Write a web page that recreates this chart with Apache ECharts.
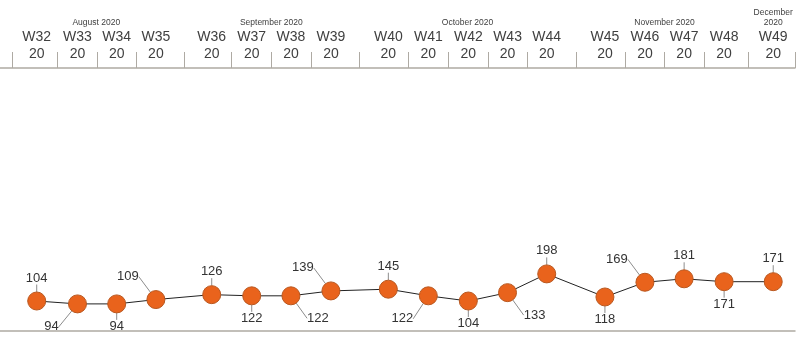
<!DOCTYPE html>
<html><head><meta charset="utf-8">
<script src="https://cdn.jsdelivr.net/npm/echarts@6/dist/echarts.min.js"></script>
<style>html,body{margin:0;padding:0;background:#fff}#c{width:804px;height:360px}</style>
</head><body><div id="c"></div>
<script>
// ---- data ----
const weeks = ['W32','W33','W34','W35','W36','W37','W38','W39','W40','W41','W42','W43','W44','W45','W46','W47','W48','W49'];
const weekYear = '20';
const months = ['August 2020','September 2020','October 2020','November 2020','December\n2020'];
const weekMonth = [0,0,0,0,1,1,1,1,2,2,2,2,2,3,3,3,3,4];
// x slot of each week on the timeline (weeks, month groups padded)
const weekSlot = [32.00,33.03,34.02,35.01,36.42,37.43,38.42,39.43,40.88,41.89,42.90,43.89,44.88,46.35,47.36,48.35,49.36,50.60];
const values = [104,94,94,109,126,122,122,139,145,122,104,133,198,118,169,181,171,171];
const labelSide = ['T','BL','B','TL','T','B','BR','TL','T','BL','B','BR','T','B','TL','T','B','T'];

// ---- derived ----
const tickVals = [weekSlot[0] - 0.61];
for (let i = 0; i < weekSlot.length - 1; i++) tickVals.push((weekSlot[i] + weekSlot[i + 1]) / 2);
tickVals.push(weekSlot[weekSlot.length - 1] + 0.55);
const xMin = weekSlot[0] - 0.927;
const xMax = tickVals[tickVals.length - 1];
const monthCenters = months.map((m, mi) => {
  const s = weekSlot.filter((_, i) => weekMonth[i] === mi);
  return (s[0] + s[s.length - 1]) / 2;
});
function nearest(arr, v) {
  let b = 0;
  arr.forEach((a, i) => { if (Math.abs(a - v) < Math.abs(arr[b] - v)) b = i; });
  return b;
}
const sideOffset = { T: [0, -23], B: [0, 22.5], TL: [-28, -23], BL: [-26, 23], BR: [27, 22.5] };

const FONT = 'Arial, "Liberation Sans", sans-serif';
const AXIS_COLOR = '#aeaaa3';

const chart = echarts.init(document.getElementById('c'), null, { renderer: 'canvas' });
chart.setOption({
  animation: false,
  grid: { left: 0, right: 9, top: 68, bottom: 29, containLabel: false },
  xAxis: [
    {
      type: 'value', position: 'top', min: xMin, max: xMax,
      splitLine: { show: false },
      axisLine: { show: true, onZero: false, lineStyle: { color: AXIS_COLOR, width: 1.5 } },
      axisTick: { show: true, customValues: tickVals, length: 16, lineStyle: { color: AXIS_COLOR, width: 1 } },
      axisLabel: {
        show: true, customValues: weekSlot, margin: 5,
        fontFamily: FONT, fontSize: 14, lineHeight: 17, color: '#404040',
        formatter: v => weeks[nearest(weekSlot, v)] + '\n' + weekYear
      }
    },
    {
      type: 'value', position: 'top', offset: 40, min: xMin, max: xMax,
      splitLine: { show: false },
      axisLine: { show: false, onZero: false }, axisTick: { show: false },
      axisLabel: {
        show: true, customValues: monthCenters, margin: 0,
        fontFamily: FONT, fontSize: 8.5, lineHeight: 10.5, color: '#404040',
        formatter: v => months[nearest(monthCenters, v)]
      }
    },
    {
      type: 'value', position: 'bottom', min: xMin, max: xMax,
      splitLine: { show: false },
      axisLine: { show: true, onZero: false, lineStyle: { color: AXIS_COLOR, width: 1.5 } },
      axisTick: { show: false }, axisLabel: { show: false }
    }
  ],
  yAxis: { type: 'value', min: 0, max: 912, show: false, splitLine: { show: false } },
  series: [{
    type: 'line',
    xAxisIndex: 0,
    data: weekSlot.map((x, i) => [x, values[i]]),
    symbol: 'circle', symbolSize: 18,
    itemStyle: { color: '#e9631c', borderColor: '#b8571f', borderWidth: 1 },
    lineStyle: { color: '#222', width: 1 },
    label: { show: true, position: 'top', fontFamily: FONT, fontSize: 13, color: '#333',
      formatter: p => values[p.dataIndex] },
    labelLine: { show: true, lineStyle: { color: '#8c8c8c', width: 1 } },
    labelLayout: p => {
      const o = sideOffset[labelSide[p.dataIndex]];
      return {
        x: p.rect.x + p.rect.width / 2 + o[0],
        y: p.rect.y + p.rect.height / 2 + o[1],
        align: 'center', verticalAlign: 'middle'
      };
    },
    emphasis: { disabled: true }
  }]
});
</script></body></html>
